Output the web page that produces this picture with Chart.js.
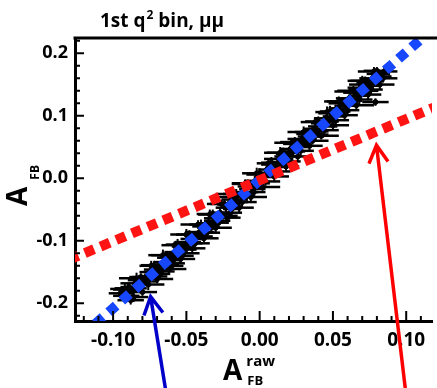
<!DOCTYPE html>
<html>
<head>
<meta charset="utf-8">
<script src="https://cdn.jsdelivr.net/npm/chart.js@4.4.1/dist/chart.umd.min.js"></script>
<style>
    html, body { margin: 0; padding: 0; background: #fff; }
    #wrap { width: 437px; height: 388px; }
</style>
</head>
<body>
<div id="wrap"><canvas id="afbChart" width="437" height="388"></canvas></div>
<script>
(function () {
    'use strict';

    // ============================================
    // Data
    // ============================================

    // raw vs fitted asymmetry, one entry per toy sample
    const rawAfb = [
        -0.095, -0.093, -0.091, -0.089, -0.087, -0.085, -0.084, -0.082, -0.080, -0.078,
        -0.077, -0.075, -0.073, -0.071, -0.069, -0.067, -0.065, -0.063, -0.061, -0.059,
        -0.057, -0.055, -0.053, -0.051, -0.049, -0.047, -0.045, -0.043, -0.041, -0.039,
        -0.037, -0.035, -0.033, -0.031, -0.029, -0.027, -0.025, -0.023, -0.021, -0.019,
        -0.017, -0.015, -0.013, -0.011, -0.009, -0.007, -0.005, -0.003, -0.001, 0.001,
        0.003, 0.005, 0.007, 0.009, 0.011, 0.013, 0.015, 0.017, 0.019, 0.021,
        0.023, 0.025, 0.027, 0.029, 0.031, 0.033, 0.035, 0.037, 0.039, 0.041,
        0.043, 0.045, 0.047, 0.049, 0.051, 0.053, 0.055, 0.057, 0.059, 0.061,
        0.063, 0.065, 0.067, 0.069, 0.071, 0.073, 0.075, 0.077, 0.079, 0.081,
        0.083, 0.085,
        0.079, -0.060, 0.040, -0.020, 0.070,
        -0.090, -0.086, -0.081, -0.076, -0.072, -0.068, -0.064, -0.060, -0.056, -0.052,
        -0.048, -0.044, -0.040, -0.036, -0.032, -0.028, -0.024, -0.020, -0.016, -0.012,
        -0.008, -0.004, 0.000, 0.004, 0.008, 0.012, 0.016, 0.020, 0.024, 0.028,
        0.032, 0.036, 0.040, 0.044, 0.048, 0.052, 0.056, 0.060, 0.064, 0.068,
        0.072, 0.076, 0.080, 0.084,
        -0.092, -0.088, -0.084, -0.080, -0.074, -0.070, -0.066, -0.062, -0.058, -0.054,
        -0.050, -0.046, -0.042, -0.038, -0.034, -0.030, -0.026, -0.022, -0.018, -0.014,
        -0.010, -0.006, -0.002, 0.002, 0.006, 0.010, 0.014, 0.018, 0.022, 0.026,
        0.030, 0.034, 0.038, 0.042, 0.046, 0.050, 0.054, 0.058, 0.062, 0.066,
        0.070, 0.074, 0.078, 0.082
    ];
    const fitAfb = [
        -0.184, -0.178, -0.188, -0.174, -0.181, -0.168, -0.176, -0.163, -0.170, -0.158,
        -0.165, -0.150, -0.157, -0.146, -0.141, -0.149, -0.134, -0.138, -0.127, -0.131,
        -0.118, -0.124, -0.109, -0.114, -0.102, -0.097, -0.104, -0.090, -0.086, -0.093,
        -0.077, -0.072, -0.079, -0.064, -0.068, -0.055, -0.060, -0.047, -0.042, -0.049,
        -0.034, -0.038, -0.026, -0.022, -0.028, -0.013, -0.017, -0.004, -0.008, 0.006,
        0.002, 0.014, 0.009, 0.022, 0.018, 0.031, 0.026, 0.039, 0.035, 0.047,
        0.043, 0.055, 0.050, 0.063, 0.059, 0.071, 0.067, 0.079, 0.075, 0.088,
        0.083, 0.096, 0.091, 0.104, 0.099, 0.112, 0.107, 0.120, 0.116, 0.128,
        0.124, 0.137, 0.132, 0.145, 0.140, 0.153, 0.148, 0.160, 0.156, 0.167,
        0.163, 0.171,
        0.122, -0.140, 0.070, -0.030, 0.150,
        -0.176, -0.190, -0.158, -0.170, -0.139, -0.153, -0.123, -0.136, -0.106, -0.120,
        -0.090, -0.104, -0.074, -0.087, -0.057, -0.071, -0.041, -0.055, -0.025, -0.038,
        -0.008, -0.022, 0.008, -0.005, 0.025, 0.011, 0.041, 0.027, 0.058, 0.044,
        0.074, 0.060, 0.091, 0.077, 0.107, 0.093, 0.123, 0.109, 0.140, 0.126,
        0.156, 0.142, 0.172, 0.160,
        -0.177, -0.195, -0.160, -0.182, -0.140, -0.161, -0.123, -0.145, -0.107, -0.129,
        -0.090, -0.112, -0.074, -0.096, -0.058, -0.079, -0.041, -0.063, -0.025, -0.047,
        -0.009, -0.030, 0.008, -0.014, 0.024, 0.003, 0.041, 0.019, 0.057, 0.035,
        0.074, 0.052, 0.090, 0.068, 0.106, 0.085, 0.123, 0.101, 0.139, 0.117,
        0.156, 0.134, 0.171, 0.150
    ];
    const rawErr = [
        0.008, 0.007, 0.009, 0.006, 0.008, 0.010, 0.007, 0.008, 0.006, 0.009,
        0.008, 0.007, 0.010, 0.008, 0.006, 0.009, 0.007, 0.008, 0.009, 0.006,
        0.008, 0.010, 0.007, 0.008, 0.009, 0.007, 0.006, 0.008, 0.010, 0.007,
        0.009, 0.008, 0.006, 0.007, 0.009, 0.008, 0.010, 0.007, 0.008, 0.006,
        0.009, 0.007, 0.008, 0.010, 0.006, 0.008, 0.009, 0.007, 0.008, 0.010,
        0.007, 0.006, 0.009, 0.008, 0.007, 0.010, 0.008, 0.006, 0.009, 0.007,
        0.008, 0.009, 0.007, 0.010, 0.006, 0.008, 0.009, 0.007, 0.008, 0.006,
        0.010, 0.008, 0.007, 0.009, 0.008, 0.006, 0.007, 0.010, 0.008, 0.009,
        0.007, 0.008, 0.006, 0.009, 0.010, 0.007, 0.008, 0.009, 0.006, 0.008,
        0.007, 0.009,
        0.009, 0.008, 0.007, 0.008, 0.009,
        0.009, 0.010, 0.008, 0.011, 0.009, 0.007, 0.010, 0.009, 0.008, 0.011,
        0.009, 0.010, 0.008, 0.009, 0.011, 0.007, 0.010, 0.008, 0.009, 0.010,
        0.011, 0.008, 0.009, 0.010, 0.007, 0.009, 0.011, 0.008, 0.010, 0.009,
        0.008, 0.011, 0.009, 0.010, 0.007, 0.009, 0.010, 0.008, 0.011, 0.009,
        0.010, 0.008, 0.009, 0.010,
        0.010, 0.009, 0.012, 0.010, 0.008, 0.011, 0.010, 0.012, 0.009, 0.010,
        0.011, 0.009, 0.012, 0.010, 0.008, 0.011, 0.010, 0.009, 0.012, 0.010,
        0.009, 0.011, 0.010, 0.012, 0.008, 0.010, 0.011, 0.009, 0.012, 0.010,
        0.011, 0.009, 0.010, 0.012, 0.008, 0.011, 0.010, 0.009, 0.011, 0.012,
        0.010, 0.009, 0.011, 0.010
    ];
    const fitErr = [
        0.006, 0.005, 0.007, 0.006, 0.005, 0.008, 0.006, 0.007, 0.005, 0.006,
        0.007, 0.006, 0.005, 0.008, 0.006, 0.007, 0.005, 0.006, 0.008, 0.006,
        0.005, 0.007, 0.006, 0.006, 0.008, 0.005, 0.007, 0.006, 0.005, 0.007,
        0.006, 0.008, 0.005, 0.006, 0.007, 0.006, 0.005, 0.008, 0.006, 0.007,
        0.005, 0.006, 0.007, 0.006, 0.008, 0.005, 0.006, 0.007, 0.006, 0.005,
        0.008, 0.006, 0.007, 0.005, 0.006, 0.007, 0.006, 0.008, 0.005, 0.006,
        0.007, 0.006, 0.005, 0.008, 0.006, 0.007, 0.006, 0.005, 0.007, 0.006,
        0.008, 0.005, 0.006, 0.007, 0.006, 0.005, 0.008, 0.006, 0.007, 0.006,
        0.005, 0.007, 0.006, 0.008, 0.005, 0.006, 0.007, 0.006, 0.005, 0.008,
        0.006, 0.007,
        0.006, 0.007, 0.005, 0.006, 0.007,
        0.007, 0.008, 0.006, 0.009, 0.007, 0.008, 0.006, 0.007, 0.009, 0.008,
        0.007, 0.006, 0.008, 0.009, 0.007, 0.008, 0.006, 0.007, 0.008, 0.009,
        0.006, 0.007, 0.008, 0.007, 0.009, 0.006, 0.008, 0.007, 0.008, 0.009,
        0.007, 0.006, 0.008, 0.007, 0.009, 0.008, 0.006, 0.007, 0.008, 0.009,
        0.007, 0.008, 0.006, 0.007,
        0.008, 0.007, 0.009, 0.006, 0.008, 0.007, 0.009, 0.008, 0.006, 0.007,
        0.009, 0.008, 0.007, 0.006, 0.008, 0.009, 0.007, 0.008, 0.006, 0.009,
        0.007, 0.008, 0.009, 0.006, 0.007, 0.008, 0.009, 0.007, 0.006, 0.008,
        0.009, 0.007, 0.008, 0.006, 0.009, 0.007, 0.008, 0.009, 0.006, 0.007,
        0.008, 0.009, 0.007, 0.008
    ];

    // straight reference lines, given by their end points
    const fitLineX = [-0.13, 0.13];
    const fitLineY = [-0.2695, 0.2635];
    const unitLineX = [-0.13, 0.13];
    const unitLineY = [-0.1301, 0.1241];

    const xTickValues = [-0.10, -0.05, 0.00, 0.05, 0.10];
    const yTickValues = [-0.2, -0.1, 0.0, 0.1, 0.2];

    // arrows in data units: [tailX, tailY, tipX, tipY]
    const blueArrow = [-0.0636, -0.3467, -0.0744, -0.1894];
    const redArrow = [0.0999, -0.3467, 0.0797, 0.0531];

    // ============================================
    // Style
    // ============================================

    const FONT = "'Open Sans', 'Noto Sans', sans-serif";
    const COLORS = {
        fitLine: '#1747ff',
        unitLine: '#ff1414',
        blueArrow: '#0000c8',
        redArrow: '#ff0000',
        ink: '#000'
    };

    Chart.defaults.font.family = FONT;
    Chart.defaults.color = COLORS.ink;

    // ============================================
    // Drawing helpers
    // ============================================

    function drawArrow(ctx, xs, ys, a, color) {
        const x0 = xs.getPixelForValue(a[0]);
        const y0 = ys.getPixelForValue(a[1]);
        const x1 = xs.getPixelForValue(a[2]);
        const y1 = ys.getPixelForValue(a[3]);
        const ang = Math.atan2(y1 - y0, x1 - x0);
        const head = 20;
        const spread = 0.5;

        ctx.save();
        ctx.strokeStyle = color;
        ctx.lineWidth = 3.5;
        ctx.lineJoin = 'miter';
        ctx.beginPath();
        ctx.moveTo(x0, y0);
        ctx.lineTo(x1, y1);
        ctx.moveTo(x1 - head * Math.cos(ang - spread), y1 - head * Math.sin(ang - spread));
        ctx.lineTo(x1, y1);
        ctx.lineTo(x1 - head * Math.cos(ang + spread), y1 - head * Math.sin(ang + spread));
        ctx.stroke();
        ctx.restore();
    }

    function drawTicks(ctx, chart) {
        const { chartArea: area, scales: { x, y } } = chart;
        ctx.save();
        ctx.strokeStyle = COLORS.ink;
        ctx.lineWidth = 2;
        ctx.beginPath();
        // x: minor every 0.01, major every 0.05
        for (let k = -12; k <= 11; k++) {
            const px = x.getPixelForValue(k / 100);
            if (px < area.left + 2 || px > area.right) continue;
            const len = k % 5 === 0 ? 10 : 5;
            ctx.moveTo(px, area.bottom);
            ctx.lineTo(px, area.bottom - len);
        }
        // y: minor every 0.02, major every 0.1
        for (let k = -11; k <= 11; k++) {
            const py = y.getPixelForValue(k / 50);
            if (py < area.top + 2 || py > area.bottom - 2) continue;
            const len = k % 5 === 0 ? 9 : 5;
            ctx.moveTo(area.left, py);
            ctx.lineTo(area.left + len, py);
        }
        ctx.stroke();
        ctx.restore();
    }

    function drawTexts(ctx, chart) {
        const area = chart.chartArea;
        ctx.save();
        ctx.fillStyle = COLORS.ink;
        ctx.textBaseline = 'alphabetic';
        ctx.textAlign = 'left';

        // title: 1st q^2 bin, μμ
        let tx = area.left + 25;
        const ty = 27;
        ctx.font = 'bold 19px ' + FONT;
        ctx.fillText('1st q', tx, ty);
        tx += ctx.measureText('1st q').width + 1;
        ctx.font = 'bold 12px ' + FONT;
        ctx.fillText('2', tx, ty - 8);
        tx += ctx.measureText('2').width;
        ctx.font = 'bold 19px ' + FONT;
        ctx.fillText(' bin, \u03bc\u03bc', tx, ty);

        // x title: A_FB^raw
        const bx = area.left + 148;
        ctx.font = 'bold 28px ' + FONT;
        ctx.fillText('A', bx, 380);
        const aw = ctx.measureText('A').width;
        ctx.font = 'bold 15px ' + FONT;
        ctx.fillText('raw', bx + aw + 4, 366);
        ctx.font = 'bold 13px ' + FONT;
        ctx.fillText('FB', bx + aw + 5, 385);

        // y title: A_FB, rotated
        ctx.translate(27, 206);
        ctx.rotate(-Math.PI / 2);
        ctx.font = 'bold 28px ' + FONT;
        ctx.fillText('A', 0, 0);
        const ayw = ctx.measureText('A').width;
        ctx.font = 'bold 12px ' + FONT;
        ctx.fillText('FB', ayw + 7, 12);
        ctx.restore();
    }

    // ============================================
    // Plugin: error bars, frame, ticks, labels, arrows
    // ============================================

    const decorations = {
        id: 'decorations',
        beforeDatasetsDraw(chart) {
            const { ctx, chartArea: area, scales: { x, y } } = chart;
            ctx.save();
            ctx.beginPath();
            ctx.rect(area.left, area.top, area.right - area.left, area.bottom - area.top);
            ctx.clip();
            ctx.strokeStyle = COLORS.ink;
            rawAfb.forEach((v, i) => {
                const px = x.getPixelForValue(v);
                const py = y.getPixelForValue(fitAfb[i]);
                ctx.lineWidth = 2.5;
                ctx.beginPath();
                ctx.moveTo(x.getPixelForValue(v - rawErr[i]), py);
                ctx.lineTo(x.getPixelForValue(v + rawErr[i]), py);
                ctx.stroke();
                ctx.lineWidth = 2;
                ctx.beginPath();
                ctx.moveTo(px, y.getPixelForValue(fitAfb[i] - fitErr[i]));
                ctx.lineTo(px, y.getPixelForValue(fitAfb[i] + fitErr[i]));
                ctx.stroke();
            });
            ctx.restore();
        },
        afterDraw(chart) {
            const { ctx, chartArea: area, scales: { x, y } } = chart;

            // top frame line (right side is open)
            ctx.save();
            ctx.strokeStyle = COLORS.ink;
            ctx.lineWidth = 3;
            ctx.beginPath();
            ctx.moveTo(area.left - 1.5, area.top);
            ctx.lineTo(chart.width, area.top);
            ctx.stroke();
            ctx.restore();

            drawTicks(ctx, chart);
            drawTexts(ctx, chart);
            drawArrow(ctx, x, y, blueArrow, COLORS.blueArrow);
            drawArrow(ctx, x, y, redArrow, COLORS.redArrow);
        }
    };

    // ============================================
    // Chart
    // ============================================

    const toPoints = (xs, ys) => xs.map((v, i) => ({ x: v, y: ys[i] }));

    const fmtTick = (digits) => (value) => {
        const v = Math.abs(value) < 1e-9 ? 0 : value;
        return v.toFixed(digits);
    };

    new Chart(document.getElementById('afbChart'), {
        type: 'scatter',
        data: {
            datasets: [
                {
                    type: 'line',
                    label: 'unit',
                    data: toPoints(unitLineX, unitLineY),
                    borderColor: COLORS.unitLine,
                    borderWidth: 10,
                    borderDash: [10, 7],
                    borderCapStyle: 'butt',
                    pointRadius: 0,
                    fill: false,
                    clip: 0,
                    order: 0
                },
                {
                    type: 'line',
                    label: 'fit',
                    data: toPoints(fitLineX, fitLineY),
                    borderColor: COLORS.fitLine,
                    borderWidth: 10,
                    borderDash: [10, 7.5],
                    borderCapStyle: 'butt',
                    pointRadius: 0,
                    fill: false,
                    clip: 0,
                    order: 1
                },
                {
                    label: 'toys',
                    data: toPoints(rawAfb, fitAfb),
                    backgroundColor: COLORS.ink,
                    borderColor: COLORS.ink,
                    pointRadius: 2.5,
                    order: 2
                }
            ]
        },
        options: {
            responsive: false,
            animation: false,
            devicePixelRatio: 1,
            layout: { padding: { top: 38, left: 0, right: 0, bottom: 0 } },
            plugins: {
                legend: { display: false },
                tooltip: { enabled: false }
            },
            scales: {
                x: {
                    type: 'linear',
                    min: -0.126,
                    max: 0.1176,
                    grid: { display: false, drawTicks: false },
                    border: { display: true, color: COLORS.ink, width: 3 },
                    afterBuildTicks(scale) {
                        scale.ticks = xTickValues.map(v => ({ value: v }));
                    },
                    afterFit(scale) {
                        scale.height = 67;
                        scale.paddingLeft = 0;
                        scale.paddingRight = 0;
                    },
                    ticks: {
                        padding: 8,
                        maxRotation: 0,
                        autoSkip: false,
                        color: COLORS.ink,
                        font: { size: 19, weight: 'bold' },
                        callback: fmtTick(2)
                    }
                },
                y: {
                    type: 'linear',
                    min: -0.2283,
                    max: 0.2245,
                    grid: { display: false, drawTicks: false },
                    border: { display: true, color: COLORS.ink, width: 3 },
                    afterBuildTicks(scale) {
                        scale.ticks = yTickValues.map(v => ({ value: v }));
                    },
                    afterFit(scale) {
                        scale.width = 75;
                    },
                    ticks: {
                        padding: 7,
                        autoSkip: false,
                        color: COLORS.ink,
                        font: { size: 18, weight: 'bold' },
                        callback: fmtTick(1)
                    }
                }
            }
        },
        plugins: [decorations]
    });
})();
</script>
</body>
</html>
